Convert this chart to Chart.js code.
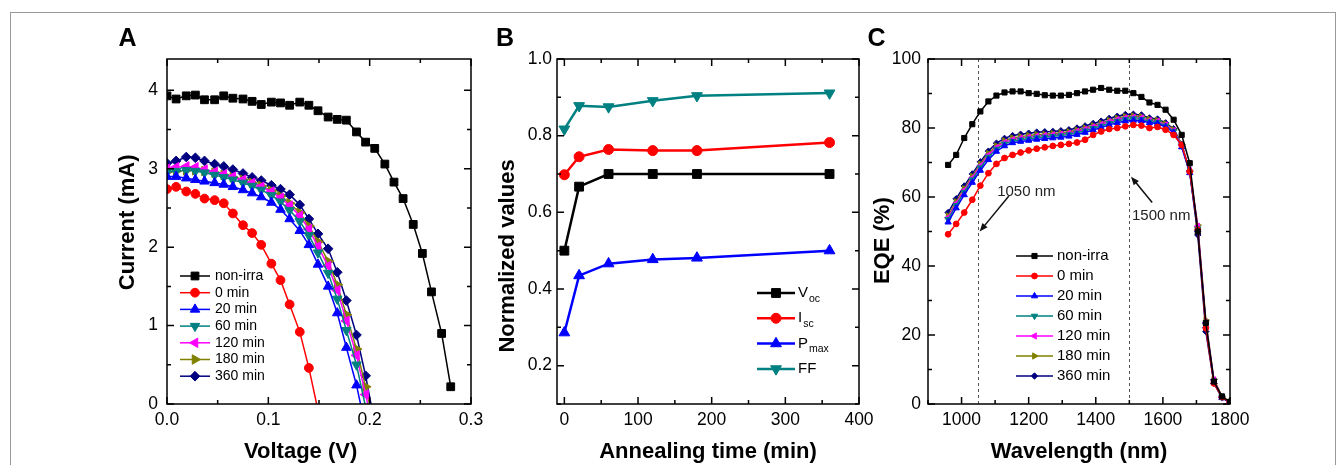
<!DOCTYPE html>
<html>
<head>
<meta charset="utf-8">
<script src="https://cdn.jsdelivr.net/npm/chart.js@4.4.1/dist/chart.umd.min.js"></script>
<style>
  html, body { margin: 0; padding: 0; background: #fff; }
  #fig { position: relative; width: 1343px; height: 465px; overflow: hidden; }
  #frame { position: absolute; left: 10px; top: 12px; width: 1324px; height: 470px; border: 1px solid #9a9a9a; }
  canvas { position: absolute; top: 0; }
</style>
</head>
<body>
<div id="fig">
  <div id="frame"></div>
  <canvas id="ivChart" width="400" height="465" style="left:100px"></canvas>
  <canvas id="annealChart" width="410" height="465" style="left:480px"></canvas>
  <canvas id="eqeChart" width="420" height="465" style="left:855px"></canvas>
</div>
<script>
// ---- A: I-V curves ----
const voltage = [0.000, 0.009, 0.019, 0.028, 0.037, 0.047, 0.056, 0.065, 0.075, 0.084, 0.093, 0.103, 0.112, 0.121, 0.131, 0.140,
                 0.149, 0.159, 0.168, 0.177, 0.187, 0.196, 0.205, 0.215, 0.224, 0.233, 0.243, 0.252, 0.261, 0.271, 0.280];
const ivNonIrra = [3.93, 3.89, 3.93, 3.94, 3.88, 3.88, 3.93, 3.90, 3.89, 3.86, 3.82, 3.85, 3.84, 3.81, 3.85, 3.81,
                   3.74, 3.66, 3.63, 3.62, 3.47, 3.34, 3.26, 3.06, 2.83, 2.62, 2.29, 1.92, 1.43, 0.90, 0.22];
const iv0   = [2.74, 2.77, 2.71, 2.68, 2.62, 2.60, 2.56, 2.43, 2.28, 2.18, 2.03, 1.79, 1.58, 1.27, 0.92, 0.46, -0.08];
const iv20  = [2.90, 2.90, 2.88, 2.86, 2.84, 2.82, 2.80, 2.77, 2.73, 2.69, 2.64, 2.57, 2.48, 2.36, 2.21, 2.03, 1.78, 1.50, 1.16, 0.72, 0.24, -0.30];
const iv60  = [2.96, 2.97, 2.98, 2.97, 2.95, 2.92, 2.89, 2.86, 2.82, 2.78, 2.73, 2.66, 2.58, 2.47, 2.33, 2.15, 1.93, 1.67, 1.34, 0.94, 0.50, -0.04];
const iv120 = [3.00, 3.02, 3.03, 3.02, 2.99, 2.96, 2.93, 2.90, 2.86, 2.82, 2.77, 2.71, 2.63, 2.53, 2.40, 2.23, 2.01, 1.76, 1.45, 1.06, 0.62, 0.12, -0.40];
const iv180 = [2.96, 2.97, 2.98, 2.98, 2.97, 2.95, 2.92, 2.89, 2.86, 2.82, 2.78, 2.72, 2.65, 2.56, 2.44, 2.27, 2.07, 1.82, 1.52, 1.14, 0.70, 0.22, -0.30];
const iv360 = [3.07, 3.10, 3.15, 3.14, 3.10, 3.06, 3.03, 2.99, 2.94, 2.89, 2.85, 2.79, 2.74, 2.67, 2.54, 2.36, 2.17, 1.98, 1.68, 1.32, 0.88, 0.36, -0.25];
const ivTicksX = [0, 0.1, 0.2, 0.3];
const ivTicksY = [0, 1, 2, 3, 4];

// ---- B: normalized values vs annealing time ----
const annealTime = [0, 20, 60, 120, 180, 360];
const normVoc  = [0.500, 0.667, 0.700, 0.700, 0.700, 0.700];
const normIsc  = [0.698, 0.745, 0.764, 0.761, 0.761, 0.782];
const normPmax = [0.286, 0.435, 0.466, 0.477, 0.481, 0.500];
const normFF   = [0.817, 0.878, 0.875, 0.891, 0.904, 0.911];
const annealLabels = ['V_oc', 'I_sc', 'P_max', 'FF'];
const annealTicksX = [0, 100, 200, 300, 400];
const annealTicksY = [0.2, 0.4, 0.6, 0.8, 1.0];

// ---- C: EQE spectra ----
const wavelength = [960, 984, 1008, 1032, 1056, 1080, 1104, 1128, 1152, 1176, 1200, 1224, 1248, 1272, 1296, 1320, 1344, 1368,
                    1392, 1416, 1440, 1464, 1488, 1512, 1536, 1560, 1584, 1608, 1632, 1656, 1680, 1704, 1728, 1752, 1776, 1800];
const eqeNonIrra = [69.3, 72.2, 77.1, 81.1, 84.8, 87.7, 89.4, 90.3, 90.6, 90.6, 90.1, 89.9, 89.5, 89.4, 89.4, 89.6, 90.1, 90.6,
                    91.1, 91.6, 91.1, 90.8, 90.8, 90.1, 89.0, 87.4, 86.7, 85.3, 82.4, 78.0, 69.8, 50.0, 23.5, 6.5, 2.2, 0.6];
const eqe0   = [49.2, 52.2, 55.5, 59.2, 63.3, 66.9, 69.6, 71.3, 72.2, 72.9, 73.5, 74.0, 74.4, 74.8, 75.1, 75.4, 75.8, 76.6,
                78.0, 79.0, 79.7, 80.0, 80.5, 80.9, 80.7, 80.0, 80.3, 79.5, 78.0, 75.1, 67.4, 50.5, 22.0, 6.0, 2.0, 0.5];
const eqe20  = [52.7, 56.8, 60.6, 64.2, 67.7, 70.8, 73.2, 74.8, 75.7, 76.1, 76.4, 76.7, 76.9, 77.1, 77.3, 77.6, 78.1, 78.7,
                79.4, 80.1, 80.9, 81.5, 82.0, 82.2, 82.1, 81.5, 81.3, 80.3, 78.7, 74.5, 67.0, 50.5, 22.6, 6.4, 1.8, 0.4];
const eqe60  = [53.5, 57.6, 61.4, 65.0, 68.5, 71.6, 73.9, 75.4, 76.2, 76.6, 76.9, 77.2, 77.4, 77.6, 77.8, 78.1, 78.6, 79.2,
                79.9, 80.6, 81.4, 82.0, 82.5, 82.7, 82.5, 81.8, 81.6, 80.6, 79.0, 74.8, 67.2, 50.8, 23.0, 6.6, 1.9, 0.5];
const eqe120 = [54.0, 58.1, 61.9, 65.5, 69.0, 72.1, 74.3, 75.8, 76.6, 77.0, 77.3, 77.6, 77.8, 78.0, 78.2, 78.5, 79.0, 79.6,
                80.3, 81.0, 81.8, 82.4, 82.9, 83.1, 82.9, 82.1, 81.9, 80.9, 79.2, 75.0, 67.6, 51.5, 23.5, 7.0, 2.0, 0.5];
const eqe180 = [54.5, 58.6, 62.4, 66.0, 69.5, 72.6, 74.8, 76.3, 77.1, 77.5, 77.8, 78.1, 78.2, 78.4, 78.6, 78.9, 79.4, 80.0,
                80.7, 81.4, 82.2, 82.8, 83.3, 83.5, 83.3, 82.5, 82.2, 81.2, 79.5, 75.2, 67.5, 51.8, 24.3, 7.2, 2.2, 0.6];
const eqe360 = [55.5, 59.5, 63.2, 66.7, 70.2, 73.3, 75.6, 77.0, 77.8, 78.2, 78.5, 78.8, 78.9, 79.0, 79.2, 79.5, 80.0, 80.6,
                81.3, 82.0, 82.8, 83.4, 83.9, 84.0, 83.8, 82.9, 82.6, 81.5, 79.8, 75.3, 67.3, 49.0, 21.0, 6.0, 1.8, 0.5];
const eqeGuides = [1050, 1500];
const eqeTicksX = [1000, 1200, 1400, 1600, 1800];
const eqeTicksY = [0, 20, 40, 60, 80, 100];

const irrLabels = ['non-irra', '0 min', '20 min', '60 min', '120 min', '180 min', '360 min'];

const FONT = "'Liberation Sans', Arial, sans-serif";
Chart.defaults.font.family = FONT;
Chart.defaults.color = '#000';

// origin-like marker look, by series index
const marks = [
  {color: '#000000', style: 'rect', rot: 0},
  {color: '#ff0000', style: 'circle', rot: 0},
  {color: '#0000ff', style: 'triangle', rot: 0},
  {color: '#008080', style: 'triangle', rot: 180},
  {color: '#ff00ff', style: 'triangle', rot: -90},
  {color: '#808000', style: 'triangle', rot: 90},
  {color: '#000080', style: 'rectRot', rot: 0}
];
const markSize = {rect: 1.25, circle: 1, triangle: 1.25, rectRot: 1.1};

function series(label, xs, ys, m, r, w) {
  const rad = r * markSize[m.style];
  return {
    label, data: ys.map((y, i) => ({x: xs[i], y})),
    borderColor: m.color, backgroundColor: m.color,
    pointBackgroundColor: m.color, pointBorderColor: m.color,
    pointStyle: m.style, pointRotation: m.rot,
    pointRadius: rad, pointHoverRadius: rad, pointBorderWidth: 1,
    borderWidth: w, tension: 0, fill: false
  };
}

function axis(o) {
  return {
    type: 'linear', min: o.min, max: o.max,
    grid: {display: false, drawTicks: false},
    border: {display: false},
    afterBuildTicks: s => { s.ticks = o.ticks.map(v => ({value: v})); },
    ticks: {callback: o.fmt, font: {size: 17.5}, padding: o.pad, autoSkip: false, maxRotation: 0, color: '#000'},
    title: {display: true, text: o.title, color: '#000', font: {size: 22, weight: 'bold'}, padding: {top: 14.8, bottom: 0}},
    afterFit: s => {
      if (s.isHorizontal()) s.height = o.size; else s.width = o.size;
      s.paddingLeft = s.paddingRight = s.paddingTop = s.paddingBottom = 0;
    }
  };
}

// box frame with inward major/minor ticks on all four sides
const frameTicks = {
  id: 'frameTicks',
  afterDatasetsDraw(chart, args, opts) {
    const {ctx, chartArea: a} = chart;
    const xs = chart.scales.x, ys = chart.scales.y;
    const list = (scale, step) => {
      const major = scale.ticks.map(t => t.value);
      const out = major.map(v => ({v, len: 7}));
      for (let k = Math.ceil(scale.min / step - 1e-6); k * step <= scale.max + 1e-9; k++) {
        const v = k * step;
        if (!major.some(m => Math.abs(m - v) < step / 10)) out.push({v, len: 4});
      }
      return out;
    };
    ctx.save();
    ctx.strokeStyle = '#000';
    ctx.lineWidth = 1.5;
    ctx.strokeRect(a.left, a.top, a.right - a.left, a.bottom - a.top);
    ctx.beginPath();
    list(xs, opts.minorX).forEach(({v, len}) => {
      const px = xs.getPixelForValue(v);
      ctx.moveTo(px, a.bottom); ctx.lineTo(px, a.bottom - len);
      ctx.moveTo(px, a.top); ctx.lineTo(px, a.top + len);
    });
    list(ys, opts.minorY).forEach(({v, len}) => {
      const py = ys.getPixelForValue(v);
      ctx.moveTo(a.left, py); ctx.lineTo(a.left + len, py);
      ctx.moveTo(a.right, py); ctx.lineTo(a.right - len, py);
    });
    ctx.stroke();
    ctx.restore();
  }
};

// legend drawn inside the plot: line + marker + label (with optional subscript after "_")
const lineLegend = {
  id: 'lineLegend',
  afterDatasetsDraw(chart, args, o) {
    const {ctx, chartArea: a} = chart;
    ctx.save();
    chart.data.datasets.forEach((ds, i) => {
      const y = a.top + o.top + i * o.gap;
      const x0 = a.left + o.left;
      ctx.strokeStyle = ds.borderColor;
      ctx.fillStyle = ds.borderColor;
      ctx.lineWidth = ds.borderWidth;
      ctx.beginPath(); ctx.moveTo(x0, y); ctx.lineTo(x0 + o.len, y); ctx.stroke();
      ctx.lineWidth = 1;
      Chart.helpers.drawPoint(ctx, {pointStyle: ds.pointStyle, rotation: ds.pointRotation || 0,
        radius: ds.pointRadius, borderWidth: 1}, x0 + o.len / 2, y);
      const [main, sub] = ds.label.split('_');
      const tx = x0 + o.len + o.textGap;
      ctx.fillStyle = '#000';
      ctx.textAlign = 'left';
      ctx.textBaseline = 'middle';
      ctx.font = o.size + 'px ' + FONT;
      ctx.fillText(main, tx, y);
      if (sub) {
        const w = ctx.measureText(main).width;
        ctx.font = (o.size * 0.7) + 'px ' + FONT;
        ctx.fillText(sub, tx + w + 1, y + o.size * 0.4);
      }
    });
    ctx.restore();
  }
};

const panelLabel = {
  id: 'panelLabel',
  afterDraw(chart, args, o) {
    const ctx = chart.ctx;
    ctx.save();
    ctx.font = 'bold 25px ' + FONT;
    ctx.fillStyle = '#000';
    ctx.textAlign = 'center';
    ctx.textBaseline = 'middle';
    ctx.fillText(o.text, o.x, o.y);
    ctx.restore();
  }
};

// dashed guide lines plus arrow notes, placed in data coordinates
const eqeNotes = {
  id: 'eqeNotes',
  beforeDatasetsDraw(chart, args, o) {
    const {ctx, chartArea: a, scales: {x}} = chart;
    ctx.save();
    ctx.strokeStyle = '#555';
    ctx.lineWidth = 1;
    ctx.setLineDash([3, 3]);
    eqeGuides.forEach(v => {
      const px = Math.round(x.getPixelForValue(v)) + 0.5;
      ctx.beginPath(); ctx.moveTo(px, a.top); ctx.lineTo(px, a.bottom); ctx.stroke();
    });
    ctx.restore();
  },
  afterDatasetsDraw(chart, args, o) {
    const {ctx, scales: {x, y}} = chart;
    ctx.save();
    o.notes.forEach(n => {
      const x0 = x.getPixelForValue(n.from[0]), y0 = y.getPixelForValue(n.from[1]);
      const x1 = x.getPixelForValue(n.to[0]), y1 = y.getPixelForValue(n.to[1]);
      const ang = Math.atan2(y1 - y0, x1 - x0);
      ctx.strokeStyle = '#111'; ctx.fillStyle = '#111'; ctx.lineWidth = 1.5;
      ctx.beginPath(); ctx.moveTo(x0, y0);
      ctx.lineTo(x1 - 6 * Math.cos(ang), y1 - 6 * Math.sin(ang)); ctx.stroke();
      ctx.beginPath();
      ctx.moveTo(x1, y1);
      ctx.lineTo(x1 - 9 * Math.cos(ang - 0.38), y1 - 9 * Math.sin(ang - 0.38));
      ctx.lineTo(x1 - 9 * Math.cos(ang + 0.38), y1 - 9 * Math.sin(ang + 0.38));
      ctx.closePath(); ctx.fill();
      ctx.font = '15px ' + FONT;
      ctx.fillStyle = '#222';
      ctx.textAlign = 'center';
      ctx.textBaseline = 'middle';
      ctx.fillText(n.text, x.getPixelForValue(n.at[0]), y.getPixelForValue(n.at[1]));
    });
    ctx.restore();
  }
};

const common = {
  responsive: false, animation: false, devicePixelRatio: 1, events: []
};

// A
new Chart(document.getElementById('ivChart'), {
  type: 'line',
  data: {
    datasets: [ivNonIrra, iv0, iv20, iv60, iv120, iv180, iv360]
      .map((ys, i) => series(irrLabels[i], voltage, ys, marks[i], 4.4, 1.5))
  },
  options: Object.assign({}, common, {
    layout: {padding: {top: 59, right: 29, left: 0, bottom: 0}},
    scales: {
      x: axis({min: 0, max: 0.3, ticks: ivTicksX, fmt: v => v.toFixed(1), pad: 6, size: 61,
               title: 'Voltage (V)      '}),
      y: axis({min: 0, max: 4.4, ticks: ivTicksY, fmt: v => String(v), pad: 9, size: 67,
               title: '   Current (mA)'})
    },
    plugins: {
      legend: {display: false}, tooltip: {enabled: false},
      frameTicks: {minorX: 0.05, minorY: 0.5},
      lineLegend: {left: 13, top: 217, gap: 16.7, len: 30, textGap: 5, size: 14},
      panelLabel: {text: 'A', x: 27.5, y: 39}
    }
  }),
  plugins: [frameTicks, lineLegend, panelLabel]
});

// B
const bMarks = [marks[0], marks[1], marks[2], marks[3]];
new Chart(document.getElementById('annealChart'), {
  type: 'line',
  data: {
    datasets: [normVoc, normIsc, normPmax, normFF]
      .map((ys, i) => series(annealLabels[i], annealTime, ys, bMarks[i], 5, 2.5))
  },
  options: Object.assign({}, common, {
    layout: {padding: {top: 59, right: 31, left: 0, bottom: 0}},
    scales: {
      x: axis({min: -10, max: 400, ticks: annealTicksX, fmt: v => String(v), pad: 6, size: 61,
               title: 'Annealing time (min)'}),
      y: axis({min: 0.1, max: 1.0, ticks: annealTicksY, fmt: v => v.toFixed(1), pad: 5, size: 77,
               title: 'Normalized values        '})
    },
    plugins: {
      legend: {display: false}, tooltip: {enabled: false},
      frameTicks: {minorX: 50, minorY: 0.1},
      lineLegend: {left: 200, top: 234, gap: 25.3, len: 38, textGap: 3, size: 15},
      panelLabel: {text: 'B', x: 25, y: 39}
    }
  }),
  plugins: [frameTicks, lineLegend, panelLabel]
});

// C
new Chart(document.getElementById('eqeChart'), {
  type: 'line',
  data: {
    datasets: [eqeNonIrra, eqe0, eqe20, eqe60, eqe120, eqe180, eqe360]
      .map((ys, i) => series(irrLabels[i], wavelength, ys, marks[i], 2.9, 1.5))
  },
  options: Object.assign({}, common, {
    layout: {padding: {top: 59, right: 45, left: 0, bottom: 0}},
    scales: {
      x: axis({min: 900, max: 1800, ticks: eqeTicksX, fmt: v => String(v), pad: 6, size: 61,
               title: 'Wavelength (nm)'}),
      y: axis({min: 0, max: 100, ticks: eqeTicksY, fmt: v => String(v), pad: 7, size: 73,
               title: 'EQE (%)   '})
    },
    plugins: {
      legend: {display: false}, tooltip: {enabled: false},
      frameTicks: {minorX: 100, minorY: 10},
      lineLegend: {left: 88, top: 197, gap: 20, len: 37, textGap: 4, size: 15},
      panelLabel: {text: 'C', x: 21.5, y: 39},
      eqeNotes: {notes: [
        {text: '1050 nm', at: [1193, 61.4], from: [1141, 60.3], to: [1054, 50.0]},
        {text: '1500 nm', at: [1595, 54.6], from: [1568, 58.4], to: [1505, 65.9]}
      ]}
    }
  }),
  plugins: [frameTicks, lineLegend, panelLabel, eqeNotes]
});
</script>
</body>
</html>
